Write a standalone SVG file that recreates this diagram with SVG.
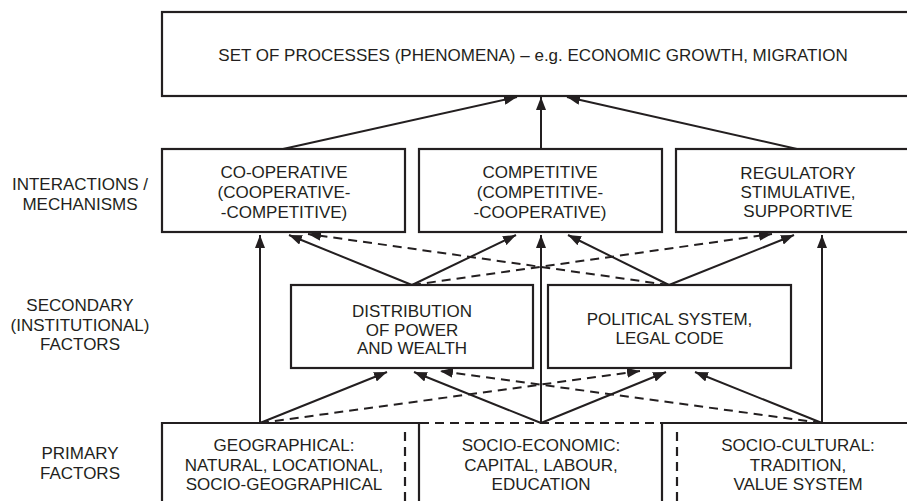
<svg xmlns="http://www.w3.org/2000/svg" width="907" height="501" viewBox="0 0 907 501">
<style>
  text { font-family: "Liberation Sans", Arial, sans-serif; font-size: 17px; fill: #231f20; text-anchor: middle; }
  .box { fill: none; stroke: #231f20; stroke-width: 2.2; }
  .dbox { fill: none; stroke: #231f20; stroke-width: 2.2; stroke-dasharray: 9 6; }
  .ln { fill: none; stroke: #231f20; stroke-width: 2; marker-end: url(#ah); }
  .dl { fill: none; stroke: #231f20; stroke-width: 2; stroke-dasharray: 9 6; marker-end: url(#ah); }
</style>
<defs>
  <marker id="ah" markerUnits="userSpaceOnUse" markerWidth="13" markerHeight="10" viewBox="0 0 13 10" refX="13" refY="5" orient="auto">
    <path d="M0,0 L13,5 L0,10 Z" fill="#231f20"/>
  </marker>
</defs>
<rect width="907" height="501" fill="#ffffff"/>

<g id="row-labels">
  <text x="80" y="190">INTERACTIONS /</text>
  <text x="80" y="210">MECHANISMS</text>
  <text x="80" y="311">SECONDARY</text>
  <text x="80" y="331">(INSTITUTIONAL)</text>
  <text x="80" y="350">FACTORS</text>
  <text x="80" y="459">PRIMARY</text>
  <text x="80" y="479">FACTORS</text>
</g>

<g id="connectors">
  <line class="ln" x1="283" y1="149" x2="517" y2="97"/>
  <line class="ln" x1="541" y1="149" x2="541" y2="97"/>
  <line class="ln" x1="797" y1="149" x2="567" y2="97"/>
  <line class="ln" x1="260" y1="423" x2="260" y2="235"/>
  <line class="ln" x1="412" y1="285" x2="289" y2="235"/>
  <line class="ln" x1="412" y1="285" x2="516" y2="235"/>
  <line class="ln" x1="541" y1="423" x2="541" y2="235"/>
  <line class="ln" x1="669" y1="285" x2="568" y2="235"/>
  <line class="ln" x1="669" y1="285" x2="794" y2="235"/>
  <line class="ln" x1="822" y1="423" x2="822" y2="235"/>
  <line class="ln" x1="260" y1="423" x2="387" y2="372"/>
  <line class="ln" x1="541" y1="423" x2="414" y2="372"/>
  <line class="ln" x1="541" y1="423" x2="666" y2="372"/>
  <line class="ln" x1="822" y1="423" x2="695" y2="372"/>
  <line class="dl" x1="669" y1="285" x2="308" y2="234"/>
  <line class="dl" x1="412" y1="285" x2="772" y2="234"/>
  <line class="dl" x1="260" y1="423" x2="640" y2="371"/>
  <line class="dl" x1="822" y1="423" x2="440" y2="371"/>
</g>

<g id="processes">
  <rect class="box" x="162" y="12" width="760" height="84"/>
  <text x="533" y="61">SET OF PROCESSES (PHENOMENA) – e.g. ECONOMIC GROWTH, MIGRATION</text>
</g>

<g id="cooperative">
  <rect class="box" x="162" y="149" width="243" height="83"/>
  <text x="284" y="178">CO-OPERATIVE</text>
  <text x="284" y="198">(COOPERATIVE-</text>
  <text x="284" y="218">-COMPETITIVE)</text>
</g>

<g id="competitive">
  <rect class="box" x="419" y="149" width="243" height="83"/>
  <text x="540" y="178">COMPETITIVE</text>
  <text x="540" y="198">(COMPETITIVE-</text>
  <text x="540" y="218">-COOPERATIVE)</text>
</g>

<g id="regulatory">
  <rect class="box" x="676" y="149" width="246" height="83"/>
  <text x="798" y="179">REGULATORY</text>
  <text x="798" y="198">STIMULATIVE,</text>
  <text x="798" y="217">SUPPORTIVE</text>
</g>

<g id="distribution">
  <rect class="box" x="291" y="285" width="242" height="83"/>
  <text x="412" y="317">DISTRIBUTION</text>
  <text x="412" y="335.5">OF POWER</text>
  <text x="412" y="354">AND WEALTH</text>
</g>

<g id="political">
  <rect class="box" x="548" y="285" width="243" height="83"/>
  <text x="669.5" y="325">POLITICAL SYSTEM,</text>
  <text x="669.5" y="344">LEGAL CODE</text>
</g>

<g id="geographical">
  <path class="box" d="M162,520 V423 H419 V520"/>
  <text x="284" y="451">GEOGRAPHICAL:</text>
  <text x="284" y="471">NATURAL, LOCATIONAL,</text>
  <text x="284" y="490">SOCIO-GEOGRAPHICAL</text>
</g>

<g id="socio-economic">
  <line class="dbox" x1="405" y1="423" x2="677" y2="423"/>
  <line class="dbox" x1="405" y1="432" x2="405" y2="520"/>
  <line class="dbox" x1="677" y1="432" x2="677" y2="520"/>
  <text x="541" y="451">SOCIO-ECONOMIC:</text>
  <text x="541" y="471">CAPITAL, LABOUR,</text>
  <text x="541" y="490">EDUCATION</text>
</g>

<g id="socio-cultural">
  <path class="box" d="M662,520 V423 H922"/>
  <text x="798" y="451">SOCIO-CULTURAL:</text>
  <text x="798" y="471">TRADITION,</text>
  <text x="798" y="490">VALUE SYSTEM</text>
</g>
</svg>
